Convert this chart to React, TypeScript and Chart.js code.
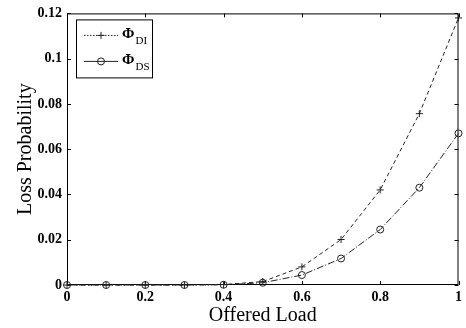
import React, { useEffect, useRef } from "react";
import { Chart, registerables } from "chart.js";
Chart.register(...registerables);

const loads = [0, 0.1, 0.2, 0.3, 0.4, 0.5, 0.6, 0.7, 0.8, 0.9, 1.0];
const phiDI = [0, 0, 0, 0, 0.0002, 0.0015, 0.008, 0.0201, 0.042, 0.0757, 0.118];
const phiDS = [0, 0, 0, 0, 0.0001, 0.001, 0.0044, 0.0117, 0.0245, 0.043, 0.067];
const xTicks = [0, 0.2, 0.4, 0.6, 0.8, 1];
const yTicks = [0, 0.02, 0.04, 0.06, 0.08, 0.1, 0.12];
const seriesNames = [["Φ", "DI"], ["Φ", "DS"]];

const FONT = "'Liberation Serif', 'DejaVu Serif', serif";

const framePlugin = {
  id: "frame",
  beforeDatasetsDraw(chart: any) {
    const { ctx, chartArea: a, scales } = chart;
    ctx.save();
    ctx.strokeStyle = "#000";
    ctx.lineWidth = 1;
    ctx.setLineDash([]);
    ctx.strokeRect(a.left + 0.5, a.top + 0.5, a.right - a.left - 1, a.bottom - a.top - 1);
    const tl = 4;
    ctx.beginPath();
    for (const v of xTicks) {
      const x = Math.round(scales.x.getPixelForValue(v)) + 0.5;
      ctx.moveTo(x, a.bottom); ctx.lineTo(x, a.bottom - tl);
      ctx.moveTo(x, a.top); ctx.lineTo(x, a.top + tl);
    }
    for (const v of yTicks) {
      const y = Math.round(scales.y.getPixelForValue(v)) + 0.5;
      ctx.moveTo(a.left, y); ctx.lineTo(a.left + tl, y);
      ctx.moveTo(a.right, y); ctx.lineTo(a.right - tl, y);
    }
    ctx.stroke();
    ctx.restore();
  },
  afterDatasetsDraw(chart: any) {
    const { ctx, chartArea: a } = chart;
    ctx.save();
    ctx.strokeStyle = "#000";
    ctx.lineWidth = 1;
    const bx = a.left + 9, by = a.top + 6, bw = 76, bh = 58;
    ctx.fillStyle = "#fff";
    ctx.fillRect(bx, by, bw, bh);
    ctx.strokeRect(bx + 0.5, by + 0.5, bw, bh);
    chart.data.datasets.forEach((ds: any, i: number) => {
      const cy = by + 16 + i * 26;
      ctx.strokeStyle = ds.borderColor;
      ctx.lineWidth = ds.borderWidth;
      ctx.setLineDash(i === 0 ? [1.5, 1.5] : []);
      ctx.beginPath();
      ctx.moveTo(bx + 8, cy); ctx.lineTo(bx + 42, cy);
      ctx.stroke();
      ctx.setLineDash([]);
      const mx = bx + 25;
      ctx.beginPath();
      if (ds.pointStyle === "circle") {
        ctx.arc(mx, cy, 3.5, 0, Math.PI * 2);
      } else {
        ctx.moveTo(mx - 3.5, cy); ctx.lineTo(mx + 3.5, cy);
        ctx.moveTo(mx, cy - 3.5); ctx.lineTo(mx, cy + 3.5);
      }
      ctx.stroke();
      ctx.fillStyle = "#000";
      ctx.textBaseline = "alphabetic";
      ctx.textAlign = "left";
      ctx.font = `bold 15px ${FONT}`;
      ctx.fillText(seriesNames[i][0], bx + 46, cy + 3);
      const w = ctx.measureText(seriesNames[i][0]).width;
      ctx.font = `11px ${FONT}`;
      ctx.fillText(seriesNames[i][1], bx + 46 + w + 1, cy + 9);
    });
    ctx.restore();
  },
};

export default function App() {
  const ref = useRef<HTMLCanvasElement>(null);
  useEffect(() => {
    document.body.style.margin = "0";
    const chart = new Chart(ref.current!, {
      type: "line",
      data: {
        labels: loads,
        datasets: [
          {
            label: "ΦDI",
            data: loads.map((x, i) => ({ x, y: phiDI[i] })),
            borderColor: "#222",
            borderWidth: 1,
            borderDash: [4, 3],
            pointStyle: "cross",
            pointRadius: 3.5,
            pointBorderColor: "#222",
            pointBorderWidth: 1,
            pointBackgroundColor: "#222",
            fill: false,
            clip: false,
          },
          {
            label: "ΦDS",
            data: loads.map((x, i) => ({ x, y: phiDS[i] })),
            borderColor: "#222",
            borderWidth: 1,
            borderDash: [7, 2, 1, 2],
            pointStyle: "circle",
            pointRadius: 3.5,
            pointBorderColor: "#222",
            pointBorderWidth: 1,
            pointBackgroundColor: "rgba(0,0,0,0)",
            fill: false,
            clip: false,
          },
        ],
      },
      options: {
        animation: false,
        responsive: false,
        layout: { padding: { top: 12, right: 4, left: 0, bottom: 0 } },
        plugins: { legend: { display: false }, tooltip: { enabled: false } },
        scales: {
          x: {
            type: "linear",
            min: 0,
            max: 1,
            afterBuildTicks: (s: any) => { s.ticks = xTicks.map((v) => ({ value: v })); },
            afterFit: (s: any) => { s.height = 43; },
            grid: { display: false, drawTicks: false },
            border: { display: false },
            ticks: {
              color: "#000",
              padding: 4,
              font: { family: FONT, size: 14, weight: "bold" },
              callback: (v: any) => String(v),
              maxRotation: 0,
            },
            title: {
              display: true,
              text: "Offered Load",
              color: "#000",
              padding: { top: 0, bottom: 0 },
              font: { family: FONT, size: 20 },
            },
          },
          y: {
            min: 0,
            max: 0.12,
            afterBuildTicks: (s: any) => { s.ticks = yTicks.map((v) => ({ value: v })); },
            afterFit: (s: any) => { s.width = 67; },
            grid: { display: false, drawTicks: false },
            border: { display: false },
            ticks: {
              color: "#000",
              padding: 5,
              font: { family: FONT, size: 14, weight: "bold" },
              callback: (v: any) => String(Math.round(v * 100) / 100),
            },
            title: {
              display: true,
              text: "Loss Probability",
              color: "#000",
              padding: { top: 14, bottom: 4 },
              font: { family: FONT, size: 20 },
            },
          },
        },
      },
      plugins: [framePlugin],
    } as any);
    return () => chart.destroy();
  }, []);
  return <canvas ref={ref} width={466} height={328} style={{ display: "block" }} />;
}
